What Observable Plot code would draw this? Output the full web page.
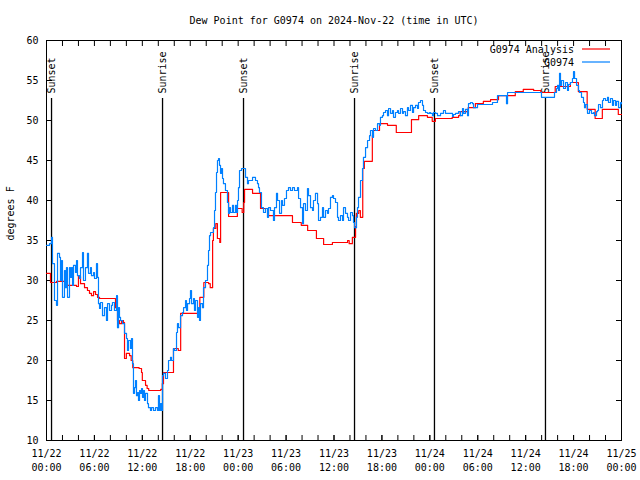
<!DOCTYPE html>
<html>
<head>
<meta charset="utf-8">
<script src="https://cdn.jsdelivr.net/npm/d3@7"></script>
<script src="https://cdn.jsdelivr.net/npm/@observablehq/plot@0.6"></script>
<style>
  html, body { margin: 0; padding: 0; background: #fff; }
</style>
</head>
<body>
<div id="chart"></div>
<script>
// ---- data (hours since 2024-11-22 00:00 UTC, degrees F) ----
const titleText = "Dew Point for G0974 on 2024-Nov-22 (time in UTC)";
const yLabelText = "degrees F";
const seriesNames = ["G0974 Analysis", "G0974"];
const seriesColors = ["#ff0000", "#0080ff"];

const analysisSeries = [[0,30.9],[0.5,29.75],[1.25,29.9],[2.5,29.4],[3.76,29.25],[4.0,30.5],[4.26,29.6],[4.76,29.1],[5.13,28.75],[5.38,28.4],[5.63,28.1],[5.89,28.6],[6.14,28.25],[6.39,27.9],[6.64,27.75],[8.64,26.6],[8.89,25],[9.14,24.6],[9.39,25],[9.64,24.75],[9.77,20.25],[10.0,20.9],[10.4,20.6],[10.6,20],[10.8,19.1],[11.6,19],[11.9,18.5],[12.0,17.5],[12.4,16.9],[12.6,16.5],[12.8,16.25],[14.3,16.4],[14.5,17.1],[14.65,18.5],[15.8,18.5],[15.9,21.5],[16.5,21.25],[16.8,25.9],[19.2,27.9],[19.7,29.75],[20.3,29.6],[20.5,29.1],[20.8,35],[20.9,36.5],[21.2,37.1],[21.4,35.25],[21.7,34.75],[21.8,41],[22.8,38],[23.9,39],[24.5,38.5],[24.7,39.75],[24.8,41.4],[25.8,40.9],[26.8,39],[27.8,38.1],[30.8,37.25],[31.9,36.9],[32.7,36.25],[33.8,35.25],[34.7,34.5],[35.8,34.75],[37.7,35],[37.9,34.6],[38.3,35.4],[38.7,36.75],[38.8,38.4],[39.1,38.75],[39.3,37.9],[39.6,44],[39.8,44.9],[40.8,48.1],[40.9,48.75],[41.7,49.6],[42.7,49.4],[43.8,48.5],[45.7,50.1],[46.6,50.6],[47.7,50.4],[48.3,49.9],[48.7,50.25],[50.8,50.4],[51.6,50.6],[51.8,51.1],[52.8,51.6],[53.7,52.1],[54.7,52.4],[55.6,52.6],[56.6,53.1],[58.7,53.6],[59.7,53.9],[61.0,53.75],[61.9,53.5],[63.7,54.25],[65.6,54.75],[66.6,53.6],[67.7,51.4],[68.7,50.25],[69.6,51.4],[71.6,50.75],[72,50.75]];

const stationSeries = [[0,34.4],[0.38,34.6],[0.63,35.4],[0.75,32.1],[1.0,27.5],[1.25,26.9],[1.38,33.4],[1.63,32.9],[1.75,30],[1.88,32.5],[2.0,27.9],[2.25,31.25],[2.38,29.1],[2.5,31.6],[2.63,27.9],[2.88,31.6],[3.0,30.4],[3.13,31.6],[3.26,29.4],[3.38,31.9],[3.63,31],[3.76,32.5],[3.88,30.6],[4.13,30.25],[4.26,31.6],[4.51,33.5],[4.63,30],[4.88,31.6],[5.13,33.4],[5.26,30.9],[5.51,31.6],[5.63,30.6],[5.89,31],[6.01,30.25],[6.26,32.1],[6.39,30.4],[6.51,27.1],[6.64,26.5],[6.76,27.25],[7.01,25.6],[7.26,26.6],[7.51,25],[7.64,27.1],[7.89,26.25],[8.14,26.9],[8.26,27.25],[8.51,26.25],[8.77,28.1],[8.89,24.1],[9.02,26.6],[9.14,25.4],[9.27,25],[9.52,24.6],[9.77,23.4],[10.02,22.75],[10.14,21.25],[10.27,22.5],[10.52,21.5],[10.64,22.75],[10.77,19.6],[10.89,15.9],[11.02,16.6],[11.14,17.5],[11.27,15.6],[11.4,16],[11.52,15],[11.65,16.25],[11.77,15.9],[11.9,16.5],[12.02,15.4],[12.15,16.25],[12.27,15],[12.4,15.9],[12.65,14.6],[12.77,14.1],[13.02,13.75],[13.15,14.1],[13.4,13.75],[13.65,14.1],[13.9,13.75],[14.02,15.6],[14.15,13.75],[14.28,14.6],[14.4,13.75],[14.53,18.1],[14.65,18.4],[14.9,17.75],[15.15,18.75],[15.28,20],[15.53,20.4],[15.65,20],[15.9,21.5],[16.03,21.25],[16.28,23.5],[16.4,24.6],[16.53,24.1],[16.78,25.6],[17.03,26],[17.16,26.6],[17.41,27.5],[17.53,26.25],[17.66,27.1],[17.91,27.75],[18.03,28.75],[18.16,27.1],[18.41,27.75],[18.53,26.25],[18.66,27.5],[18.91,25.4],[19.03,26.6],[19.16,25],[19.28,27.1],[19.53,26.6],[19.66,29.1],[19.91,30],[20.16,31.9],[20.29,33.75],[20.41,35.6],[20.54,36],[20.79,36],[20.91,36.6],[21.04,38.75],[21.16,41],[21.29,43.5],[21.41,45],[21.54,45.25],[21.66,44.4],[21.79,43.4],[21.91,44],[22.04,42.75],[22.16,42.1],[22.41,41.25],[22.66,39.75],[22.79,38.4],[22.92,39.1],[23.04,38.5],[23.29,39.4],[23.42,38.5],[23.67,39.4],[23.79,38.5],[23.92,40],[24.04,41.6],[24.17,43.75],[24.42,44],[24.67,44],[24.92,42.9],[25.17,42.1],[25.29,42.5],[25.54,42.5],[25.8,42.9],[26.17,42.5],[26.42,42.1],[26.55,41.6],[26.67,41],[26.92,39.1],[27.17,38.5],[27.42,39],[27.67,37.9],[27.8,39.1],[28.05,38.75],[28.42,37.5],[28.55,39.1],[28.8,40.9],[28.93,40],[29.18,38.4],[29.43,40],[29.55,39.4],[29.8,40.25],[30.05,41.25],[30.3,41.6],[30.55,41.25],[30.8,41.6],[31.05,41.25],[31.43,41.6],[31.56,40.25],[31.81,39.1],[32.06,37.1],[32.18,39.6],[32.43,38.75],[32.68,41.5],[32.81,40.6],[33.06,39.1],[33.31,38.75],[33.43,40],[33.68,40.9],[33.94,39.6],[34.06,37.5],[34.31,37.9],[34.56,39.1],[34.69,37.9],[34.94,38.75],[35.19,38.4],[35.31,39],[35.56,40.4],[35.81,40.6],[35.94,40.25],[36.19,39.75],[36.44,37.9],[36.56,37.5],[36.81,38.1],[37.07,37.5],[37.19,39.1],[37.44,38.4],[37.69,37.9],[37.82,37.5],[38.07,38.5],[38.32,38.1],[38.44,37.25],[38.57,36.6],[38.82,37.9],[38.94,39.1],[39.07,40.4],[39.32,42.5],[39.57,44],[39.69,45.4],[39.95,46.6],[40.2,47.5],[40.45,48.1],[40.57,48.75],[40.82,47.9],[40.95,49],[41.2,48.75],[41.45,49.6],[41.7,49.4],[41.82,50.4],[42.07,50.6],[42.2,51],[42.45,51.25],[42.7,50.6],[42.83,51.5],[43.08,50.9],[43.33,51.25],[43.45,50.4],[43.7,51],[43.95,51.25],[44.08,50.9],[44.33,51.5],[44.58,50.9],[44.7,51.1],[44.95,50.6],[45.2,51.6],[45.33,51.25],[45.58,51.9],[45.83,51],[45.96,51.6],[46.21,51.9],[46.46,51.5],[46.58,52.25],[46.83,52.5],[47.08,51.9],[47.21,51.25],[47.46,51],[47.71,50.9],[47.96,51],[48.08,50.9],[48.33,50.6],[48.46,51],[48.71,50.9],[48.96,50.6],[49.34,50.9],[49.71,51.25],[49.96,50.9],[50.34,50.9],[50.59,50.9],[50.84,50.5],[50.96,50.75],[51.21,50.9],[51.59,51.1],[51.84,50.6],[52.09,51.5],[52.22,50.9],[52.47,51.4],[52.72,50.6],[52.84,52.1],[53.09,52.25],[53.34,52.1],[53.47,51.6],[53.72,51.6],[53.97,52],[54.6,52],[55.6,52],[55.85,52.25],[56.47,53.1],[57.48,53.1],[57.6,52.1],[57.73,53.5],[61.86,53.5],[61.98,52.9],[63.49,52.9],[63.61,53.5],[63.86,54],[63.99,54.4],[64.11,53.75],[64.24,55.9],[64.36,54.4],[64.49,55],[64.74,54],[64.99,54.75],[65.24,53.75],[65.36,54.5],[65.61,54.75],[65.86,55.25],[65.99,56.1],[66.12,55.25],[66.37,54.4],[66.62,53.75],[66.74,53.5],[66.99,52.9],[67.24,52.25],[67.37,51.6],[67.49,52],[67.74,50.9],[67.99,51.25],[68.24,50.9],[68.5,51],[68.62,50.6],[68.87,51.1],[69.0,51.25],[69.12,52],[69.37,51.6],[69.62,52.5],[69.75,52.75],[70.0,52.5],[70.25,52.9],[70.37,52.25],[70.62,52.75],[70.87,51.9],[71.0,52.5],[71.25,51.9],[71.38,52.4],[71.63,51.6],[71.88,52.25],[72,52.1]];

const sunEventHours = [0.63, 14.53, 24.67, 38.57, 48.58, 62.48];
const sunEventLabels = ["Sunset", "Sunrise", "Sunset", "Sunrise", "Sunset", "Sunrise"];

const xMajorTickHours = [0, 6, 12, 18, 24, 30, 36, 42, 48, 54, 60, 66, 72];
const xMinorTickHours = [0,2,4,6,8,10,12,14,16,18,20,22,24,26,28,30,32,34,36,38,40,42,44,46,48,50,52,54,56,58,60,62,64,66,68,70,72];
const yTickValues = [10, 15, 20, 25, 30, 35, 40, 45, 50, 55, 60];

// ---- build ----
const baseTime = Date.UTC(2024, 10, 22, 0, 0, 0);
const toDate = h => new Date(baseTime + h * 3600000);
const toRows = arr => arr.map(([h, v]) => ({time: toDate(h), value: v}));
const analysisRows = toRows(analysisSeries);
const stationRows = toRows(stationSeries);
const events = sunEventHours.map((h, i) => ({time: toDate(h), label: sunEventLabels[i]}));
const fmt = d3.utcFormat("%m/%d\n%H:%M");

function legendMark(index, scales, values, dims) {
  const g = d3.create("svg:g");
  const right = dims.width - dims.marginRight;
  const top = dims.marginTop;
  seriesNames.forEach((name, i) => {
    const yText = top + 10 + i * 13;
    g.append("line")
      .attr("x1", right - 39).attr("x2", right - 11)
      .attr("y1", yText - 1).attr("y2", yText - 1)
      .attr("stroke", seriesColors[i]).attr("stroke-width", 1.2);
    g.append("text")
      .attr("x", right - 47).attr("y", yText)
      .attr("dy", "0.32em")
      .attr("text-anchor", "end")
      .attr("fill", "black")
      .text(name);
  });
  return g.node();
}

const chart = Plot.plot({
  width: 640,
  height: 480,
  marginLeft: 46,
  marginRight: 19,
  marginTop: 40,
  marginBottom: 40,
  style: {fontFamily: "'DejaVu Sans Mono', monospace", fontSize: "10px", background: "white", color: "black"},
  x: {type: "utc", domain: [toDate(0), toDate(72)], label: null},
  y: {domain: [10, 60], label: null},
  marks: [
    Plot.frame({stroke: "black"}),
    Plot.axisY({anchor: "left", ticks: yTickValues, tickSize: -6, tickPadding: 14, tickFormat: d => String(d), label: null}),
    Plot.axisY({anchor: "right", ticks: yTickValues, tickSize: -6, tickFormat: () => "", label: null}),
    Plot.axisX({anchor: "bottom", ticks: xMinorTickHours.map(toDate), tickSize: -5, tickFormat: () => "", label: null}),
    Plot.axisX({anchor: "top", ticks: xMinorTickHours.map(toDate), tickSize: -5, tickFormat: () => "", label: null}),
    Plot.axisX({anchor: "bottom", ticks: xMajorTickHours.map(toDate), tickSize: -5, tickPadding: 12, tickFormat: fmt, lineHeight: 1.4, label: null}),
    Plot.ruleX(events, {x: "time", insetTop: 58, stroke: "black", strokeWidth: 1.3}),
    Plot.text(events, {x: "time", text: "label", frameAnchor: "top", lineAnchor: "middle", rotate: -90, textAnchor: "start", dy: 53, fill: "black"}),
    Plot.line(analysisRows, {x: "time", y: "value", curve: "step-after", stroke: seriesColors[0], strokeWidth: 1.2}),
    Plot.line(stationRows, {x: "time", y: "value", curve: "step-after", stroke: seriesColors[1], strokeWidth: 1.2}),
    Plot.text([titleText], {text: d => d, frameAnchor: "top", lineAnchor: "middle", dy: -20, fill: "black"}),
    Plot.text([yLabelText], {text: d => d, frameAnchor: "left", lineAnchor: "middle", dx: -36, rotate: -90, fill: "black"}),
    legendMark
  ]
});
document.getElementById("chart").appendChild(chart);
</script>
</body>
</html>
